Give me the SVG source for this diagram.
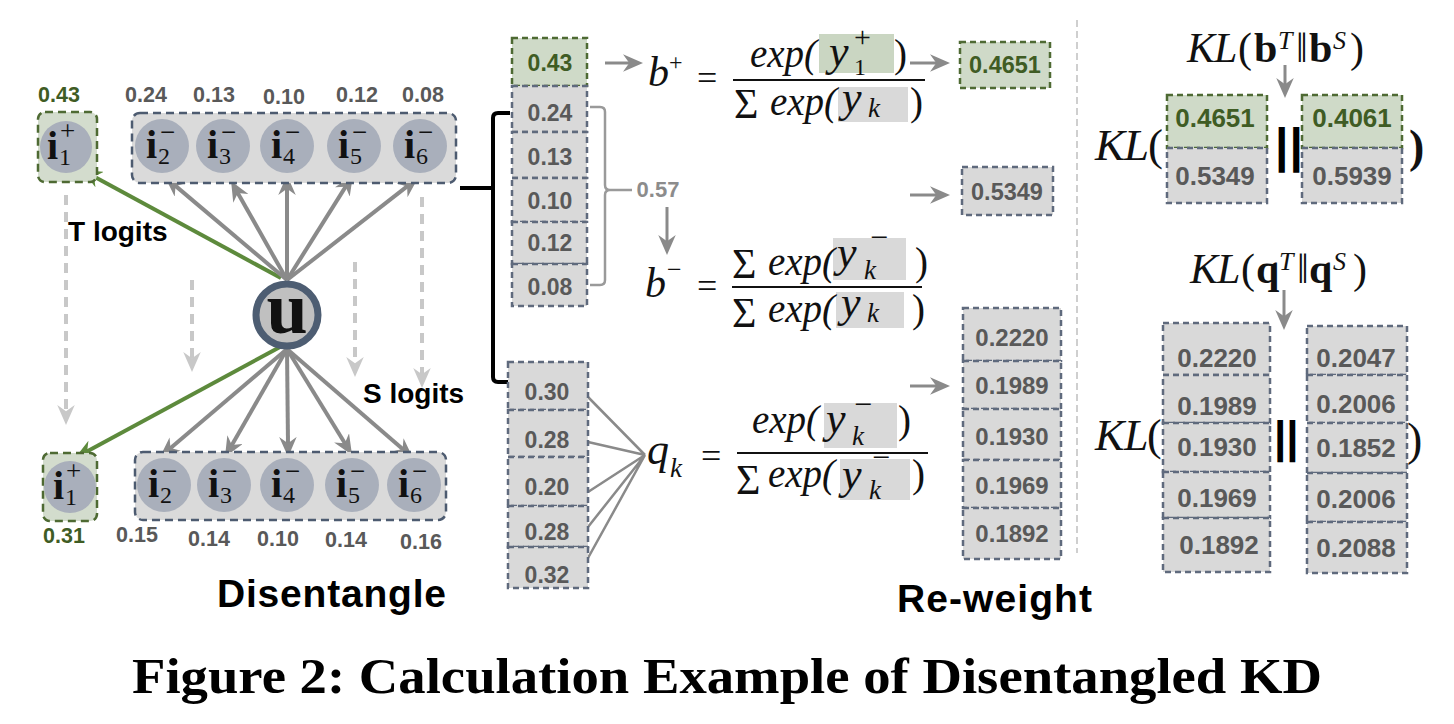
<svg xmlns="http://www.w3.org/2000/svg" width="1454" height="724" viewBox="0 0 1454 724">
<defs>
<style>
.num{font-family:"Liberation Sans",Arial,sans-serif;font-weight:bold;fill:#595959;text-anchor:middle}
.gn{fill:#3f5c24}
.box{fill:#d9d9d9;stroke:#5f6a7d;stroke-width:2.5;stroke-dasharray:6 4}
.gbox{fill:#cfdac8;stroke:#4e6a33;stroke-width:2.5;stroke-dasharray:6 4}
.grp{fill:#dadada;stroke:#4d5b70;stroke-width:2.5;stroke-dasharray:8 5}
.ggrp{fill:#d3dccd;stroke:#4e6a33;stroke-width:2.5;stroke-dasharray:8 5}
.item{fill:#a9afbb}
.il{font-family:"Liberation Serif",serif;font-size:24px;fill:#111}
.ib{font-weight:bold;font-size:40px}
.sp{font-size:27px}
.mi{font-family:"Liberation Serif",serif;font-style:italic;fill:#111}
.mr{font-family:"Liberation Serif","DejaVu Serif",serif;fill:#111}
.up{font-style:normal}
.bf{font-style:normal;font-weight:bold}
.mb{font-family:"Liberation Serif",serif;font-weight:bold;fill:#111}
.lab{font-family:"Liberation Sans",Arial,sans-serif;font-weight:bold;fill:#000}
.bar{font-family:"Liberation Sans",Arial,sans-serif;font-weight:bold;fill:#000}
.ga{stroke:#8a8a8a;stroke-width:4;fill:none;marker-end:url(#ah)}
.gr{stroke:#5d8a3c;stroke-width:4;fill:none;marker-end:url(#ahg)}
.la{stroke:#c8c8c8;stroke-width:4;fill:none;stroke-dasharray:10 7;marker-end:url(#ahl)}
.sa{stroke:#8a8a8a;stroke-width:3;fill:none;marker-end:url(#ah)}
.hl{fill:#d9d9d9}
.hg{fill:#cad6c2}
</style>
<marker id="ah" viewBox="0 0 16 14" refX="6" refY="7" markerWidth="20" markerHeight="17.5" markerUnits="userSpaceOnUse" orient="auto"><path d="M0,0 L16,7 L0,14 L5,7 Z" fill="#8a8a8a"/></marker>
<marker id="ahg" viewBox="0 0 16 14" refX="6" refY="7" markerWidth="20" markerHeight="17.5" markerUnits="userSpaceOnUse" orient="auto"><path d="M0,0 L16,7 L0,14 L5,7 Z" fill="#5d8a3c"/></marker>
<marker id="ahl" viewBox="0 0 16 14" refX="6" refY="7" markerWidth="20" markerHeight="17.5" markerUnits="userSpaceOnUse" orient="auto"><path d="M0,0 L16,7 L0,14 L5,7 Z" fill="#c8c8c8"/></marker>
</defs>
<rect width="1454" height="724" fill="#fff"/>

<!-- connectors -->
<g id="connectors">
  <line class="la" x1="66" y1="195" x2="66" y2="412.5"/>
  <line class="la" x1="192" y1="280" x2="192" y2="359.5"/>
  <line class="la" x1="355" y1="262" x2="355" y2="364.5"/>
  <line class="la" x1="422" y1="197" x2="422" y2="375.5"/>
  <line class="gr" x1="281" y1="278" x2="93" y2="176"/>
  <line class="ga" x1="287" y1="280" x2="174.6" y2="185.1"/>
  <line class="ga" x1="287" y1="280" x2="237.2" y2="191.9"/>
  <line class="ga" x1="287" y1="280" x2="287" y2="187.5"/>
  <line class="ga" x1="287" y1="280" x2="346.3" y2="185.6"/>
  <line class="ga" x1="287" y1="280" x2="408.1" y2="185.7"/>
  <line class="gr" x1="280" y1="347" x2="86" y2="452"/>
  <line class="ga" x1="287" y1="349" x2="169.5" y2="448.9"/>
  <line class="ga" x1="287" y1="349" x2="231.2" y2="446.2"/>
  <line class="ga" x1="287" y1="349" x2="288" y2="444.5"/>
  <line class="ga" x1="287" y1="349" x2="345.5" y2="444.3"/>
  <line class="ga" x1="287" y1="349" x2="403.5" y2="449.8"/>
  <path d="M460,188 H493 M510,113 H498 Q493,113 493,118 V377 Q493,382 498,382 H510" stroke="#000" stroke-width="4" fill="none"/>
  <path d="M590,107 H600 Q605,107 605,112 V185 Q605,190 610,190 H632 M610,190 Q605,190 605,195 V280 Q605,285 600,285 H590" stroke="#9a9a9a" stroke-width="2.5" fill="none"/>
  <line class="sa" x1="605" y1="63" x2="630.5" y2="63"/>
  <line class="sa" x1="667" y1="207" x2="667" y2="242.5"/>
  <line class="sa" x1="910" y1="63" x2="937.5" y2="63"/>
  <line class="sa" x1="910" y1="195" x2="937.5" y2="195"/>
  <line class="sa" x1="910" y1="386" x2="937.5" y2="386"/>
  <line class="sa" x1="1285" y1="65" x2="1285" y2="85.5"/>
  <line class="sa" x1="1284" y1="290" x2="1284" y2="317.5"/>
  <path d="M588,397 L645,455 M588,442 L645,455 M588,492 L645,455 M588,527 L645,455 M588,558 L645,455" stroke="#8a8a8a" stroke-width="2.5" fill="none"/>
  <line x1="1077" y1="20" x2="1077" y2="553" stroke="#cfcfcf" stroke-width="2" stroke-dasharray="7 4"/>
</g>

<!-- top row (teacher) -->
<g id="t-pos">
  <rect class="ggrp" x="38" y="112" width="59" height="70" rx="7"/>
  <circle class="item" cx="66" cy="147" r="26"/>
  <text class="il"><tspan class="ib" x="47" y="159">i</tspan><tspan x="59" y="165">1</tspan><tspan class="sp" x="60" y="140" font-size="28">+</tspan></text>
  <text class="num gn" x="59" y="102" font-size="21.5">0.43</text>
</g>
<g id="t-neg">
  <rect class="grp" x="132" y="113" width="324" height="70" rx="8"/>
  <circle class="item" cx="162" cy="146" r="27"/>
  <text class="il"><tspan class="ib" x="146" y="158">i</tspan><tspan x="158" y="164">2</tspan><tspan class="sp" x="160" y="141">−</tspan></text>
  <circle class="item" cx="223" cy="146" r="27"/>
  <text class="il"><tspan class="ib" x="207" y="158">i</tspan><tspan x="219" y="164">3</tspan><tspan class="sp" x="221" y="141">−</tspan></text>
  <circle class="item" cx="287" cy="146" r="27"/>
  <text class="il"><tspan class="ib" x="271" y="158">i</tspan><tspan x="283" y="164">4</tspan><tspan class="sp" x="285" y="141">−</tspan></text>
  <circle class="item" cx="354" cy="146" r="27"/>
  <text class="il"><tspan class="ib" x="338" y="158">i</tspan><tspan x="350" y="164">5</tspan><tspan class="sp" x="352" y="141">−</tspan></text>
  <circle class="item" cx="420" cy="146" r="27"/>
  <text class="il"><tspan class="ib" x="404" y="158">i</tspan><tspan x="416" y="164">6</tspan><tspan class="sp" x="418" y="141">−</tspan></text>
  <text class="num" x="146" y="102" font-size="21.5">0.24</text>
  <text class="num" x="214" y="102" font-size="21.5">0.13</text>
  <text class="num" x="284" y="104" font-size="21.5">0.10</text>
  <text class="num" x="357" y="102" font-size="21.5">0.12</text>
  <text class="num" x="423" y="102" font-size="21.5">0.08</text>
</g>

<!-- bottom row (student) -->
<g id="s-pos">
  <rect class="ggrp" x="43" y="453" width="54" height="68" rx="7"/>
  <circle class="item" cx="70" cy="487" r="26"/>
  <text class="il"><tspan class="ib" x="53" y="499">i</tspan><tspan x="65" y="505">1</tspan><tspan class="sp" x="66" y="480" font-size="28">+</tspan></text>
  <text class="num gn" x="64" y="543" font-size="21.5">0.31</text>
</g>
<g id="s-neg">
  <rect class="grp" x="135" y="452" width="311" height="68" rx="8"/>
  <circle class="item" cx="164" cy="485" r="27"/>
  <text class="il"><tspan class="ib" x="148" y="497">i</tspan><tspan x="160" y="503">2</tspan><tspan class="sp" x="162" y="480">−</tspan></text>
  <circle class="item" cx="224" cy="485" r="27"/>
  <text class="il"><tspan class="ib" x="208" y="497">i</tspan><tspan x="220" y="503">3</tspan><tspan class="sp" x="222" y="480">−</tspan></text>
  <circle class="item" cx="287" cy="485" r="27"/>
  <text class="il"><tspan class="ib" x="271" y="497">i</tspan><tspan x="283" y="503">4</tspan><tspan class="sp" x="285" y="480">−</tspan></text>
  <circle class="item" cx="352" cy="485" r="27"/>
  <text class="il"><tspan class="ib" x="336" y="497">i</tspan><tspan x="348" y="503">5</tspan><tspan class="sp" x="350" y="480">−</tspan></text>
  <circle class="item" cx="414" cy="485" r="27"/>
  <text class="il"><tspan class="ib" x="398" y="497">i</tspan><tspan x="410" y="503">6</tspan><tspan class="sp" x="412" y="480">−</tspan></text>
  <text class="num" x="137" y="542" font-size="21.5">0.15</text>
  <text class="num" x="209" y="546" font-size="21.5">0.14</text>
  <text class="num" x="278" y="546" font-size="21.5">0.10</text>
  <text class="num" x="346" y="547" font-size="21.5">0.14</text>
  <text class="num" x="421" y="549" font-size="21.5">0.16</text>
</g>

<!-- user -->
<g id="user">
  <circle cx="287" cy="315" r="31" fill="#c0c0c0" stroke="#4d5d72" stroke-width="7"/>
  <text class="mb" x="287" y="333" font-size="74" text-anchor="middle">u</text>
</g>

<g id="labels">
  <text class="lab" x="68" y="241" font-size="28">T logits</text>
  <text class="lab" x="363" y="403" font-size="28">S logits</text>
  <text class="lab" x="217" y="607" font-size="39" textLength="229">Disentangle</text>
  <text class="lab" x="897" y="612" font-size="39" textLength="195">Re-weight</text>
</g>

<!-- teacher logits stack -->
<g id="teacher-stack">
  <rect class="gbox" x="512" y="38" width="75" height="48"/>
  <rect class="box" x="512" y="86" width="75" height="46"/>
  <rect class="box" x="512" y="132" width="75" height="46"/>
  <rect class="box" x="512" y="178" width="75" height="44"/>
  <rect class="box" x="512" y="222" width="75" height="42"/>
  <rect class="box" x="512" y="264" width="75" height="42"/>
  <text class="num gn" x="550" y="71" font-size="23">0.43</text>
  <text class="num" x="550" y="121" font-size="23">0.24</text>
  <text class="num" x="550" y="165" font-size="23">0.13</text>
  <text class="num" x="550" y="209" font-size="23">0.10</text>
  <text class="num" x="550" y="251" font-size="23">0.12</text>
  <text class="num" x="550" y="295" font-size="23">0.08</text>
  <text class="num" x="658" y="197" font-size="22" style="fill:#8c8c8c">0.57</text>
</g>

<!-- student logits stack -->
<g id="student-stack">
  <rect class="box" x="508" y="362" width="80" height="48"/>
  <rect class="box" x="508" y="410" width="80" height="47"/>
  <rect class="box" x="508" y="457" width="80" height="49"/>
  <rect class="box" x="508" y="506" width="80" height="41"/>
  <rect class="box" x="508" y="547" width="80" height="41"/>
  <text class="num" x="547" y="400" font-size="23">0.30</text>
  <text class="num" x="547" y="448" font-size="23">0.28</text>
  <text class="num" x="547" y="495" font-size="23">0.20</text>
  <text class="num" x="547" y="540" font-size="23">0.28</text>
  <text class="num" x="547" y="583" font-size="23">0.32</text>
</g>

<!-- formula b+ -->
<g id="formula-bplus">
  <rect class="hg" x="819" y="34" width="75" height="39"/>
  <rect class="hl" x="838" y="87" width="70" height="35"/>
  <text class="mi" font-size="42"><tspan x="648" y="86">b</tspan><tspan class="up" x="669" y="70" font-size="24">+</tspan></text>
  <text class="mr" x="697" y="90" font-size="36">=</text>
  <line x1="733" y1="80" x2="925" y2="80" stroke="#111" stroke-width="2"/>
  <text class="mi" font-size="39"><tspan x="750" y="67">exp(</tspan><tspan x="829" y="66" font-size="44">y</tspan><tspan class="up" x="854" y="47" font-size="30">+</tspan><tspan class="up" x="854" y="75" font-size="24">1</tspan><tspan class="up" x="894" y="67">)</tspan></text>
  <text class="mi" font-size="39"><tspan class="up" x="734" y="118" font-size="42">Σ</tspan><tspan x="770" y="115">exp(</tspan><tspan x="842" y="112" font-size="44">y</tspan><tspan x="868" y="117" font-size="27">k</tspan><tspan class="up" x="910" y="115">)</tspan></text>
</g>

<!-- formula b- -->
<g id="formula-bminus">
  <rect class="hl" x="833" y="238" width="73" height="42"/>
  <rect class="hl" x="836" y="292" width="68" height="36"/>
  <text class="mi" font-size="42"><tspan x="645" y="297">b</tspan><tspan class="up" x="667" y="278" font-size="26">−</tspan></text>
  <text class="mr" x="697" y="298" font-size="36">=</text>
  <line x1="732" y1="287" x2="922" y2="287" stroke="#111" stroke-width="2"/>
  <text class="mi" font-size="39"><tspan class="up" x="732" y="278" font-size="42">Σ</tspan><tspan x="768" y="275">exp(</tspan><tspan x="837" y="267" font-size="44">y</tspan><tspan class="up" x="870" y="248" font-size="32">−</tspan><tspan x="864" y="279" font-size="27">k</tspan><tspan class="up" x="915" y="275">)</tspan></text>
  <text class="mi" font-size="39"><tspan class="up" x="732" y="327" font-size="42">Σ</tspan><tspan x="768" y="322">exp(</tspan><tspan x="841" y="317" font-size="44">y</tspan><tspan x="867" y="322" font-size="27">k</tspan><tspan class="up" x="912" y="322">)</tspan></text>
</g>

<!-- formula q_k -->
<g id="formula-qk">
  <rect class="hl" x="824" y="403" width="73" height="45"/>
  <rect class="hl" x="840" y="459" width="70" height="41"/>
  <text class="mi" font-size="44"><tspan x="647" y="464">q</tspan><tspan x="670" y="477" font-size="27">k</tspan></text>
  <text class="mr" x="701" y="468" font-size="36">=</text>
  <line x1="737" y1="453" x2="928" y2="453" stroke="#111" stroke-width="2"/>
  <text class="mi" font-size="39"><tspan x="752" y="433">exp(</tspan><tspan x="826" y="433" font-size="44">y</tspan><tspan class="up" x="854" y="415" font-size="32">−</tspan><tspan x="852" y="445" font-size="27">k</tspan><tspan class="up" x="898" y="433">)</tspan></text>
  <text class="mi" font-size="39"><tspan class="up" x="736" y="494" font-size="42">Σ</tspan><tspan x="768" y="487">exp(</tspan><tspan x="842" y="489" font-size="44">y</tspan><tspan class="up" x="872" y="468" font-size="32">−</tspan><tspan x="869" y="499" font-size="27">k</tspan><tspan class="up" x="912" y="487">)</tspan></text>
</g>

<!-- re-weighted values -->
<g id="reweight-b">
  <rect class="gbox" x="960" y="42" width="90" height="46"/>
  <text class="num gn" x="1005" y="73" font-size="23.5">0.4651</text>
  <rect class="box" x="962" y="167" width="91" height="48"/>
  <text class="num" x="1007" y="200" font-size="23.5">0.5349</text>
</g>
<g id="reweight-q">
  <rect class="box" x="963" y="308" width="98" height="53"/>
  <rect class="box" x="963" y="361" width="98" height="48"/>
  <rect class="box" x="963" y="409" width="98" height="51"/>
  <rect class="box" x="963" y="460" width="98" height="48"/>
  <rect class="box" x="963" y="508" width="98" height="51"/>
  <text class="num" x="1012" y="346" font-size="24">0.2220</text>
  <text class="num" x="1012" y="394" font-size="24">0.1989</text>
  <text class="num" x="1012" y="445" font-size="24">0.1930</text>
  <text class="num" x="1012" y="494" font-size="24">0.1969</text>
  <text class="num" x="1012" y="542" font-size="24">0.1892</text>
</g>

<!-- KL for b -->
<g id="kl-b">
  <text class="mi" font-size="42"><tspan x="1187" y="62">K</tspan><tspan x="1214" y="62">L</tspan><tspan class="up" x="1238" y="62">(</tspan><tspan class="bf" x="1254" y="62">b</tspan><tspan x="1278" y="49" font-size="26">T</tspan><tspan class="up" x="1296" y="62">‖</tspan><tspan class="bf" x="1309" y="62">b</tspan><tspan x="1333" y="49" font-size="26">S</tspan><tspan class="up" x="1350" y="62">)</tspan></text>
  <text class="mi" font-size="45"><tspan x="1095" y="160">K</tspan><tspan x="1124" y="160">L</tspan><tspan class="up" x="1148" y="160">(</tspan></text>
  <rect class="gbox" x="1167" y="95" width="100" height="53"/>
  <rect class="box" x="1167" y="148" width="100" height="55"/>
  <text class="num gn" x="1215" y="127" font-size="26">0.4651</text>
  <text class="num" x="1215" y="185" font-size="26">0.5349</text>
  <text class="bar" x="1275" y="162" font-size="48" letter-spacing="1">||</text>
  <rect class="gbox" x="1302" y="95" width="100" height="53"/>
  <rect class="box" x="1302" y="148" width="100" height="55"/>
  <text class="num gn" x="1352" y="127" font-size="26">0.4061</text>
  <text class="num" x="1352" y="185" font-size="26">0.5939</text>
  <text class="mb" x="1409" y="162" font-size="46">)</text>
</g>

<!-- KL for q -->
<g id="kl-q">
  <text class="mi" font-size="42"><tspan x="1190" y="283">K</tspan><tspan x="1217" y="283">L</tspan><tspan class="up" x="1241" y="283">(</tspan><tspan class="bf" x="1256" y="283">q</tspan><tspan x="1279" y="270" font-size="26">T</tspan><tspan class="up" x="1297" y="283">‖</tspan><tspan class="bf" x="1309" y="283">q</tspan><tspan x="1333" y="270" font-size="26">S</tspan><tspan class="up" x="1353" y="283">)</tspan></text>
  <text class="mi" font-size="44"><tspan x="1095" y="450">K</tspan><tspan x="1124" y="450">L</tspan><tspan class="up" x="1147" y="450">(</tspan></text>
  <rect class="box" x="1163" y="323" width="107" height="52"/>
  <rect class="box" x="1163" y="375" width="107" height="48"/>
  <rect class="box" x="1163" y="423" width="107" height="49"/>
  <rect class="box" x="1163" y="472" width="107" height="46"/>
  <rect class="box" x="1163" y="518" width="107" height="54"/>
  <text class="num" x="1217" y="367" font-size="26">0.2220</text>
  <text class="num" x="1217" y="415" font-size="26">0.1989</text>
  <text class="num" x="1217" y="456" font-size="26">0.1930</text>
  <text class="num" x="1217" y="507" font-size="26">0.1969</text>
  <text class="num" x="1219" y="554" font-size="26">0.1892</text>
  <text class="bar" x="1274" y="452" font-size="44" letter-spacing="0">||</text>
  <rect class="box" x="1307" y="326" width="100" height="49"/>
  <rect class="box" x="1307" y="375" width="100" height="48"/>
  <rect class="box" x="1307" y="423" width="100" height="50"/>
  <rect class="box" x="1307" y="473" width="100" height="49"/>
  <rect class="box" x="1307" y="522" width="100" height="51"/>
  <text class="num" x="1356" y="367" font-size="26">0.2047</text>
  <text class="num" x="1356" y="413" font-size="26">0.2006</text>
  <text class="num" x="1356" y="457" font-size="26">0.1852</text>
  <text class="num" x="1356" y="508" font-size="26">0.2006</text>
  <text class="num" x="1356" y="557" font-size="26">0.2088</text>
  <text class="mr" x="1407" y="455" font-size="46">)</text>
</g>

<text id="caption" x="727" y="693" font-family="Liberation Serif, serif" font-weight="bold" font-size="50" text-anchor="middle" textLength="1190" lengthAdjust="spacingAndGlyphs" fill="#000">Figure 2: Calculation Example of Disentangled KD</text>
</svg>
